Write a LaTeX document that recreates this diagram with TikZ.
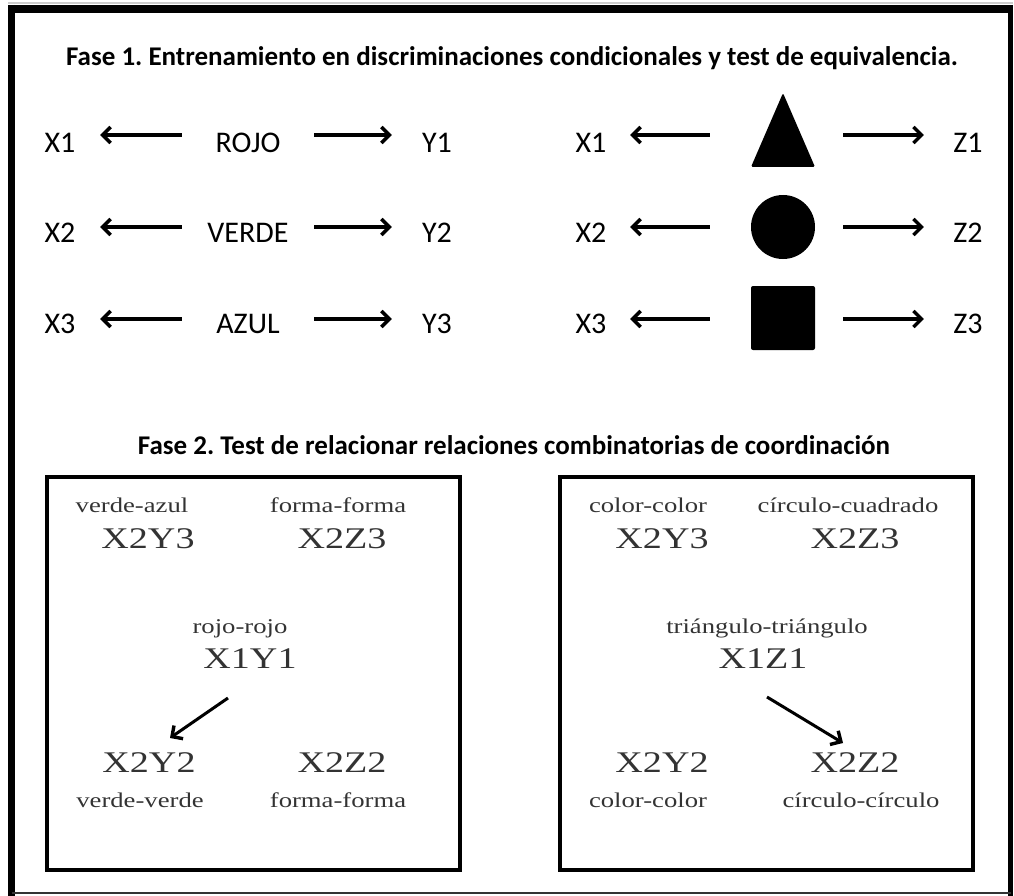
\documentclass[tikz,border=0pt]{standalone}
\usepackage{fontspec}
\setmainfont{Carlito}
\newfontfamily\serifw[FakeStretch=1.27]{Liberation Serif}
\usetikzlibrary{arrows.meta}
\frenchspacing
\begin{document}
\begin{tikzpicture}[x=1pt,y=-1pt,
  lab/.style={anchor=base,inner sep=0pt,font=\fontsize{30}{30}\selectfont},
  ttl/.style={inner sep=0pt,font=\bfseries\fontsize{27}{27}\selectfont},
  arr/.style={line width=3.4pt,-{Straight Barb[length=8pt,width=16pt,line width=3.4pt]}},
  big/.style={anchor=base,inner sep=0pt,text=black!80,font=\serifw\fontsize{30}{30}\selectfont},
  sml/.style={anchor=base,inner sep=0pt,text=black!80,font=\serifw\fontsize{21}{21}\selectfont},
  panel/.style={draw,line width=3.5pt}]
\useasboundingbox (0,0) rectangle (1014,896);
% outer frame
\draw[gray!40,line width=2pt] (8,3) -- (1013,3);
\draw[line width=7pt] (11.5,5) -- (11.5,896);
\draw[line width=8pt] (8,9) -- (1013,9);
\draw[line width=5pt] (1010.5,5) -- (1010.5,896);
\draw[black!80,line width=1.5pt] (11.5,893) -- (1010.5,893);
% title 1
\node[ttl] (t1) at (512,58) {Fase 1. Entrenamiento en discriminaciones condicionales y test de equivalencia.};
% left block
\node[lab,minimum width=80pt] (xa1) at (60,153) {X1};
\node[lab,minimum width=132pt] (rojo) at (248,153) {ROJO};
\node[lab,minimum width=90pt] (ya1) at (437,153) {Y1};
\node[lab,minimum width=80pt] (xa2) at (60,242) {X2};
\node[lab,minimum width=132pt] (verde) at (248,242) {VERDE};
\node[lab,minimum width=90pt] (ya2) at (437,242) {Y2};
\node[lab,minimum width=80pt] (xa3) at (60,333) {X3};
\node[lab,minimum width=132pt] (azul) at (248,333) {AZUL};
\node[lab,minimum width=90pt] (ya3) at (437,333) {Y3};
\draw[arr] ([yshift=18pt]rojo.base west) -- ([yshift=18pt]xa1.base east);
\draw[arr] ([yshift=18pt]rojo.base east) -- ([yshift=18pt]ya1.base west);
\draw[arr] ([yshift=15pt]verde.base west) -- ([yshift=15pt]xa2.base east);
\draw[arr] ([yshift=15pt]verde.base east) -- ([yshift=15pt]ya2.base west);
\draw[arr] ([yshift=14pt]azul.base west) -- ([yshift=14pt]xa3.base east);
\draw[arr] ([yshift=14pt]azul.base east) -- ([yshift=14pt]ya3.base west);
% right block
\node[lab,minimum width=78pt] (xb1) at (591,153) {X1};
\node[lab,minimum width=133pt] (s1) at (776.5,153) {};
\node[lab,minimum width=88pt] (z1) at (968,153) {Z1};
\node[lab,minimum width=78pt] (xb2) at (591,242) {X2};
\node[lab,minimum width=133pt] (s2) at (776.5,242) {};
\node[lab,minimum width=88pt] (z2) at (968,242) {Z2};
\node[lab,minimum width=78pt] (xb3) at (591,333) {X3};
\node[lab,minimum width=133pt] (s3) at (776.5,333) {};
\node[lab,minimum width=88pt] (z3) at (968,333) {Z3};
\fill[rounded corners=1.5pt] (751,167) -- (783,93) -- (815,167) -- cycle;
\fill (783,227) circle (32);
\fill[rounded corners=2pt] (751,286) rectangle (815,350);
\draw[arr] ([yshift=18pt]s1.base west) -- ([yshift=18pt]xb1.base east);
\draw[arr] ([yshift=18pt]s1.base east) -- ([yshift=18pt]z1.base west);
\draw[arr] ([yshift=15pt]s2.base west) -- ([yshift=15pt]xb2.base east);
\draw[arr] ([yshift=15pt]s2.base east) -- ([yshift=15pt]z2.base west);
\draw[arr] ([yshift=14pt]s3.base west) -- ([yshift=14pt]xb3.base east);
\draw[arr] ([yshift=14pt]s3.base east) -- ([yshift=14pt]z3.base west);
% title 2
\node[ttl] (t2) at (514,445) {Fase 2. Test de relacionar relaciones combinatorias de coordinación};
% panels
\draw[panel] (47,477) rectangle (460,870);
\draw[panel] (560,477) rectangle (973,870);
% left panel
\node[sml] (la) at (132,512) {verde-azul};
\node[big] (lb) at (148,548) {X2Y3};
\node[sml] (lc) at (338,512) {forma-forma};
\node[big] (ld) at (342,548) {X2Z3};
\node[sml] (le) at (240,633) {rojo-rojo};
\node[big] (lf) at (250,668) {X1Y1};
\node[big] (lg) at (149,772) {X2Y2};
\node[big] (lh) at (342,772) {X2Z2};
\node[sml] (li) at (140,807) {verde-verde};
\node[sml] (lj) at (338,807) {forma-forma};
\draw[arr,line width=3pt] ([xshift=-22pt,yshift=-30pt]lf.base) -- ([xshift=21pt,yshift=34pt]lg.base);
% right panel
\node[sml] (ra) at (648,512) {color-color};
\node[big] (rb) at (662,548) {X2Y3};
\node[sml] (rc) at (848,512) {círculo-cuadrado};
\node[big] (rd) at (855,548) {X2Z3};
\node[sml] (re) at (767,633) {triángulo-triángulo};
\node[big] (rf) at (763,668) {X1Z1};
\node[big] (rg) at (662,772) {X2Y2};
\node[big] (rh) at (855,772) {X2Z2};
\node[sml] (ri) at (648,807) {color-color};
\node[sml] (rj) at (861,807) {círculo-círculo};
\draw[arr,line width=3pt] ([xshift=4pt,yshift=-29pt]rf.base) -- ([xshift=-12pt,yshift=29pt]rh.base);
\end{tikzpicture}
\end{document}
